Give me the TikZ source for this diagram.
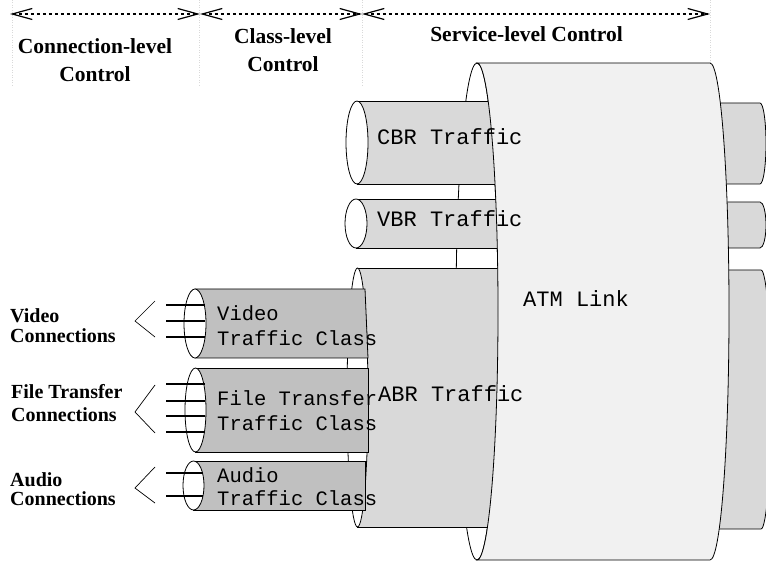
\documentclass[tikz,border=0pt]{standalone}
\usepackage{fontspec}
\setmainfont{Liberation Serif}
\newfontfamily\monofont{Liberation Mono}
\usetikzlibrary{arrows.meta}

\definecolor{linkfill}{HTML}{F1F1F1}
\definecolor{pathfill}{HTML}{D9D9D9}
\definecolor{classfill}{HTML}{C0C0C0}

\begin{document}
\begin{tikzpicture}[x=1pt,y=-1pt,
  guide/.style={draw=black!15, line width=0.7pt, dash pattern=on 1pt off 1.5pt},
  span/.style={line width=1.1pt, dash pattern=on 3pt off 3pt,
    {Straight Barb[length=20pt,width=11pt,line width=1.2pt]}-{Straight Barb[length=20pt,width=11pt,line width=1.2pt]}},
  outline/.style={draw=black, line width=0.8pt},
  pipe/.style={outline, fill=pathfill},
  classpipe/.style={outline, fill=classfill},
  mouth/.style={outline, fill=white},
  conn/.style={line width=2pt},
  fan/.style={line width=0.7pt},
  mono/.style={font=\monofont\fontsize{22pt}{24pt}\selectfont, inner sep=0pt, anchor=base west},
  monoclass/.style={font=\monofont\fontsize{20.5pt}{24pt}\selectfont, inner sep=0pt, anchor=base west},
  toplabel/.style={font=\fontsize{21.5pt}{26pt}\selectfont\bfseries, inner sep=0pt, anchor=base},
  sidelabel/.style={font=\fontsize{20pt}{22pt}\selectfont\bfseries, inner sep=0pt, anchor=base west}]

\useasboundingbox (0,0) rectangle (766,561);
\clip (0,0) rectangle (766,561);

% faint guides between the control levels
\draw[guide] (12,0) -- (12,86);
\draw[guide] (199,0) -- (199,86);
\draw[guide] (362,0) -- (362,86);
\draw[guide] (710,0) -- (710,86);

% extent arrows of the three control levels
\coordinate (s0) at (10,14);
\coordinate (s1) at (200,14);
\coordinate (s2) at (362,14);
\coordinate (s3) at (710,14);
\draw[span] (s0) -- (s1);
\draw[span] (s1) -- (s2);
\draw[span] (s2) -- (s3);

\node[toplabel] (connlvl) at (95,54) {Connection-level};
\node[toplabel] (connctl) at (95,82) {Control};
\node[toplabel] (classlvl) at (283,43.5) {Class-level};
\node[toplabel] (classctl) at (283,72) {Control};
\node[toplabel] (servlvl) at (526.5,42) {Service-level Control};

% ATM link: open mouth on the left
\draw[mouth] (477,311.5) ellipse [x radius=21pt, y radius=248.5pt];

% service pipes entering the link
\draw[pipe] (357,101) rectangle (500,184);
\draw[mouth] (357,142.5) ellipse [x radius=11pt, y radius=41.5pt];
\draw[pipe] (356,199) rectangle (500,248);
\draw[mouth] (356,223.5) ellipse [x radius=11pt, y radius=24.5pt];
\draw[pipe] (357.5,268) rectangle (500,527);
\draw[mouth] (357.5,397.5) ellipse [x radius=10.5pt, y radius=129.5pt];

% service pipes leaving the link
\draw[pipe] (700,103) -- (760,103) arc[start angle=90, end angle=-90, x radius=6pt, y radius=40.5pt] -- (700,184) -- cycle;
\draw[pipe] (700,202) -- (760,202) arc[start angle=90, end angle=-90, x radius=6pt, y radius=23pt] -- (700,248) -- cycle;
\draw[pipe] (700,270) -- (761,270) arc[start angle=90, end angle=-90, x radius=10pt, y radius=129.5pt] -- (700,529) -- cycle;

% ATM link body
\draw[outline, fill=linkfill] (477,63)
  arc[start angle=90, end angle=-90, x radius=21pt, y radius=248.5pt]
  -- (710,560)
  arc[start angle=-90, end angle=90, x radius=19pt, y radius=248.5pt]
  -- cycle;

% traffic class pipes
\draw[classpipe] (195,289) -- (365,289) -- (368,358) -- (195,358) -- cycle;
\draw[mouth] (195,323.5) ellipse [x radius=11pt, y radius=34.5pt];
\draw[classpipe] (195.5,368) -- (368,368) -- (368,452) -- (195.5,452) -- cycle;
\draw[mouth] (195.5,410) ellipse [x radius=10.5pt, y radius=42pt];
\draw[classpipe] (193.5,461) -- (365,461) -- (365,510) -- (193.5,510) -- cycle;
\draw[mouth] (193.5,485.5) ellipse [x radius=10.5pt, y radius=24.5pt];

% individual connections
\foreach \y in {305,321,337} \draw[conn] (166,\y) -- (205,\y);
\foreach \y in {384,401,416,432} \draw[conn] (166,\y) -- (205,\y);
\foreach \y in {473,496} \draw[conn] (166,\y) -- (203,\y);

% brackets grouping the connections
\coordinate (vt) at (155,301); \coordinate (vm) at (135,321); \coordinate (vb) at (155,337);
\coordinate (ft) at (155,385); \coordinate (fm) at (135,412); \coordinate (fb) at (155,433);
\coordinate (at) at (155,467); \coordinate (am) at (135,488); \coordinate (ab) at (155,503);
\draw[fan] (vt) -- (vm) -- (vb);
\draw[fan] (ft) -- (fm) -- (fb);
\draw[fan] (at) -- (am) -- (ab);

% labels
\node[mono] (cbr) at (377,145) {CBR Traffic};
\node[mono] (vbr) at (377,227) {VBR Traffic};
\node[mono] (abr) at (378,402) {ABR Traffic};
\node[mono] (atm) at (523,307) {ATM Link};
\node[monoclass] (vid1) at (217,321) {Video};
\node[monoclass] (vid2) at (217,346) {Traffic Class};
\node[monoclass] (fil1) at (217,406) {File Transfer};
\node[monoclass] (fil2) at (217,430) {Traffic Class};
\node[monoclass] (aud1) at (217,482) {Audio};
\node[monoclass] (aud2) at (217,505) {Traffic Class};

\node[sidelabel] (vc1) at (10,323) {Video};
\node[sidelabel] (vc2) at (10,343) {Connections};
\node[sidelabel] (fc1) at (11,398) {File Transfer};
\node[sidelabel] (fc2) at (11,421) {Connections};
\node[sidelabel] (ac1) at (10,486) {Audio};
\node[sidelabel] (ac2) at (10,505) {Connections};
\end{tikzpicture}
\end{document}
